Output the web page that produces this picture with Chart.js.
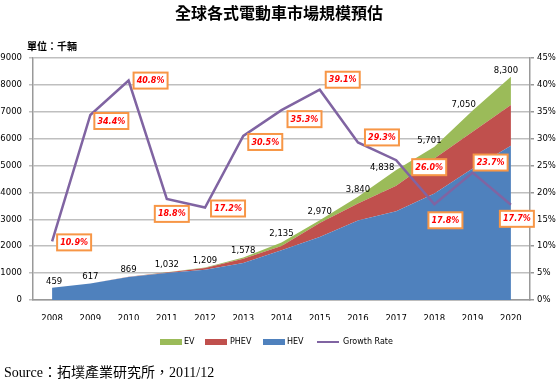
<!DOCTYPE html>
<html><head><meta charset="utf-8">
<script src="https://cdn.jsdelivr.net/npm/chart.js@4"></script>
<style>
body{margin:0;background:#fff;width:558px;height:379px;overflow:hidden;position:relative;font-family:"DejaVu Sans",sans-serif}
#c{position:absolute;left:0;top:0}
.t{position:absolute;white-space:nowrap;color:#000}
.sw{position:absolute;height:6px;width:22px}
.lg{position:absolute;font:8px "DejaVu Sans",sans-serif;color:#000;top:337px}
</style></head><body>
<canvas id="c" width="558" height="379"></canvas>
<div class="t" style="left:0;width:558px;text-align:center;top:0px;font:bold 16px 'Noto Sans CJK TC',sans-serif">全球各式電動車市場規模預估</div>
<div class="t" style="left:27px;top:38px;font:bold 10px 'Noto Sans CJK TC',sans-serif">單位：千輛</div>
<div class="sw" style="left:160px;top:339px;background:#9BBB59"></div><div class="lg" style="left:184px">EV</div>
<div class="sw" style="left:205px;top:339px;background:#C0504D"></div><div class="lg" style="left:230px">PHEV</div>
<div class="sw" style="left:263px;top:339px;background:#4F81BD"></div><div class="lg" style="left:287px">HEV</div>
<div class="sw" style="left:317px;top:341px;height:2px;background:#8064A2"></div><div class="lg" style="left:343px">Growth Rate</div>
<div class="t" style="left:4px;top:361px;font:14px 'Liberation Serif','Noto Sans CJK TC',serif">Source：拓墣產業研究所，2011/12</div>
<script>
const years = ['2008','2009','2010','2011','2012','2013','2014','2015','2016','2017','2018','2019','2020'];
const hev  = [459, 612, 855, 1000, 1125, 1380, 1850, 2340, 2960, 3300, 3960, 4890, 5740];
const phev = [0, 5, 12, 27, 64, 150, 160, 520, 630, 950, 1300, 1370, 1510];
const ev   = [0, 0, 2, 5, 20, 48, 125, 110, 250, 588, 441, 790, 1050];
const totals = [459, 617, 869, 1032, 1209, 1578, 2135, 2970, 3840, 4838, 5701, 7050, 8300];
const growth = [10.9, 34.4, 40.8, 18.8, 17.2, 30.5, 35.3, 39.1, 29.3, 26.0, 17.8, 23.7, 17.7];
const leftTicksMax = 9000, rightTicksMax = 45;

// label placement (pixels)
const valueLabelDx = [2,0,0,0,0,0,0,0,0,-14,-5,-9,-5];
const valueLabelDy = [-6,-7,-7,-7,-7,-7,-9,-8,-7,-2,-6,-6,-6];
const rateBoxDx = [22,21,22,5,23,22,23,23,24,33,11,18,6];
const rateBoxDy = [1,6,0,15,1,6,9,-10,-5,7,16,-10,14];

const labelPlugin = {
  id:'labels',
  afterDatasetsDraw(chart){
    const ctx = chart.ctx, xs = chart.scales.x, ys = chart.scales.y, y1 = chart.scales.y1;
    ctx.save();
    ctx.textAlign='center'; ctx.textBaseline='middle';
    ctx.font = '8.5px "DejaVu Sans"'; ctx.fillStyle='#000';
    totals.forEach((v,i)=>{
      const x = xs.getPixelForValue(i), y = ys.getPixelForValue(v);
      ctx.fillText(v.toLocaleString('en-US'), x+valueLabelDx[i], y+valueLabelDy[i]);
    });
    ctx.font = 'italic bold 8px "DejaVu Sans"';
    growth.forEach((g,i)=>{
      const x = xs.getPixelForValue(i)+rateBoxDx[i], y = y1.getPixelForValue(g)+rateBoxDy[i];
      const w=34,h=16;
      ctx.fillStyle='#fff'; ctx.fillRect(x-w/2,y-h/2,w,h);
      ctx.strokeStyle='#F79646'; ctx.lineWidth=2; ctx.strokeRect(x-w/2,y-h/2,w,h);
      ctx.fillStyle='#FF0000'; ctx.fillText(g.toFixed(1)+'%', x, y+0.5);
    });
    ctx.restore();
  }
};

const area = (data,color,fill)=>({type:'line',data,backgroundColor:color,borderColor:color,borderWidth:0,pointRadius:0,fill,yAxisID:'y',order:2,tension:0});
new Chart(document.getElementById('c'),{
  type:'line',
  data:{labels:years,datasets:[
    area(hev,'#4F81BD','origin'),
    area(phev,'#C0504D','-1'),
    area(ev,'#9BBB59','-1'),
    {type:'line',data:growth,borderColor:'#8064A2',borderWidth:2.5,pointRadius:0,fill:false,yAxisID:'y1',order:0,tension:0,stack:'g'}
  ]},
  options:{
    responsive:false,animation:false,
    layout:{padding:{left:0,right:0,top:58,bottom:59}},
    plugins:{legend:{display:false},tooltip:{enabled:false}},
    scales:{
      x:{offset:true,grid:{display:false},border:{display:true,color:'#999',width:1.5},
         ticks:{color:'#000',font:{family:'DejaVu Sans',size:8.5},padding:6,maxRotation:0,autoSkip:false},
         afterFit(s){s.height=20;}},
      y:{stacked:true,min:0,max:leftTicksMax,
         ticks:{stepSize:1000,color:'#000',font:{family:'DejaVu Sans',size:8.5},padding:7,callback:v=>String(v)},
         grid:{color:'#BFBFBF',lineWidth:1.5,tickLength:4},border:{color:'#999',width:1.5},
         afterFit(s){s.width=33;}},
      y1:{position:'right',min:0,max:rightTicksMax,
         ticks:{stepSize:5,color:'#000',font:{family:'DejaVu Sans',size:8.5},padding:3,callback:v=>v+'%'},
         grid:{drawOnChartArea:false,color:'#999',lineWidth:1.5,tickLength:4},border:{color:'#999',width:1.5},
         afterFit(s){s.width=28;}}
    }
  },
  plugins:[labelPlugin]
});
</script>
</body></html>
